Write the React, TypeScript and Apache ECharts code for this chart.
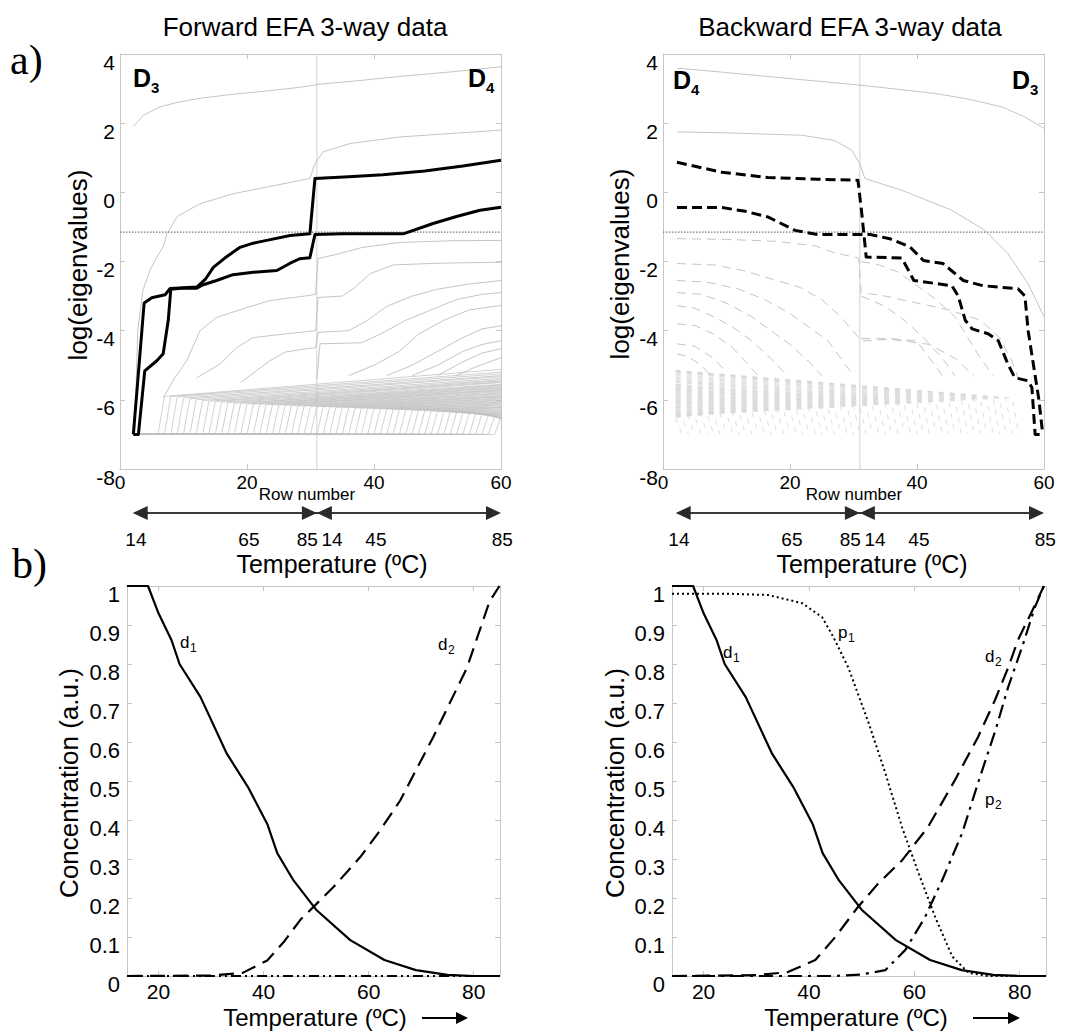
import React, { useEffect, useRef } from "react";
import * as echarts from "echarts";

const SANS = "'Liberation Sans', Arial, Helvetica, sans-serif";
const SERIF = "'Liberation Serif', 'Times New Roman', serif";

// ===== Panel a) axes =====
const rowRange = [0, 60];
const rowInterval = 20;
const logRange = [-8, 4];
const logInterval = 2;
const boundaryRow = 31; // junction D3 | D4
const noiseLevel = -1.15; // dotted noise threshold
const tempLabels = ["14", "65", "85", "14", "45", "85"];
const tempLabelRows = [2.5, 20.3, 29.5, 33.4, 40.3, 60.2];
const arrowRows = [2, 31, 60];

// ===== Panel b) axes =====
const tempRange = [14, 85];
const tempTicks = [20, 40, 60, 80];
const concRange = [0, 1];
const concInterval = 0.1;

// ===== Forward EFA (row, log eigenvalue) =====
const fwdEig1 = [[2.1, 1.91], [3.7, 2.23], [6.3, 2.47], [9, 2.6], [12.6, 2.72], [18, 2.84], [23.1, 2.93], [28, 3.03], [30.7, 3.1], [31, 3.12], [37, 3.22], [44, 3.35], [52, 3.48], [60, 3.63]];
const fwdEig2 = [[2.3, -7], [2.8, -4.0], [3.6, -2.84], [4.7, -2.26], [5.8, -1.87], [6.8, -1.58], [7.4, -1.2], [9, -0.7], [12.6, -0.33], [17.8, -0.04], [23.1, 0.15], [29.9, 0.4], [30.7, 0.83], [32, 1.17], [36.2, 1.41], [44, 1.6], [60, 1.8]];
const fwdBoldA = [[2.1, -7.0], [3.0, -5.0], [3.8, -3.2], [5, -3.05], [7.1, -2.96], [7.9, -2.78], [12.1, -2.74], [13.5, -2.5], [14.7, -2.17], [16.5, -1.9], [18.9, -1.59], [21, -1.47], [23.1, -1.39], [26.8, -1.25], [29.9, -1.2], [30.7, 0.4], [36, 0.45], [41.4, 0.51], [48, 0.62], [54, 0.76], [60, 0.93]];
const fwdBoldB = [[2.1, -7.0], [2.9, -7.0], [3.9, -5.16], [5.8, -4.87], [6.8, -4.67], [7.6, -3.7], [8, -2.8], [10, -2.77], [12.1, -2.77], [13, -2.68], [15.2, -2.55], [17.8, -2.38], [21, -2.31], [24.7, -2.26], [26.8, -2.05], [28.3, -1.92], [29.9, -1.89], [30.7, -1.22], [35, -1.2], [40, -1.2], [44.6, -1.2], [49.3, -0.9], [53, -0.7], [56.7, -0.52], [60, -0.43]];
const fwdMid1 = [[6.8, -5.94], [8.5, -5.4], [10.5, -4.87], [12.6, -4.0], [15.2, -3.62], [20, -3.33], [23.6, -3.13], [29.4, -2.99], [30.8, -2.95], [31.2, -1.91], [34, -1.8], [38, -1.6], [44, -1.45], [52, -1.4], [60, -1.39]];
const fwdMid2 = [[12.1, -5.36], [15.7, -4.97], [18.4, -4.49], [21, -4.2], [26.2, -4.09], [30.8, -4.0], [31.2, -3.04], [35, -3.0], [37, -2.75], [39.4, -2.35], [43, -2.1], [50, -2.05], [60, -2.02]];
const fwdMid3 = [[19, -5.5], [20, -5.36], [23.6, -4.87], [26, -4.62], [29.4, -4.52], [30.8, -4.49], [31.2, -4.05], [36, -4.0], [39, -3.7], [42, -3.3], [46, -3.0], [50, -2.8], [55, -2.65], [60, -2.55]];
const fwdMid4 = [[31, -5.4], [31.5, -4.38], [38, -4.35], [41, -4.1], [45, -3.7], [49, -3.4], [53, -3.1], [57, -2.95], [60, -2.9]];
const fwdMid5 = [[36, -5.3], [40, -5.0], [44, -4.6], [47, -4.1], [51, -3.7], [55, -3.4], [60, -3.27]];
const fwdMid6 = [[42, -5.3], [46, -5.0], [50, -4.6], [54, -4.2], [57, -3.95], [60, -3.86]];
const fwdMid7 = [[46, -5.3], [50, -5.0], [54, -4.6], [57, -4.4], [60, -4.29]];
const fwdMid8 = [[50, -5.3], [54, -4.9], [57, -4.65], [60, -4.52]];
const fwdMid9 = [[53, -5.3], [56, -5.05], [60, -4.78]];
const fwdNoiseOnset = [6, 7, 8, 9, 10, 11, 12, 13, 14, 15, 16, 17, 18, 19, 20, 21, 22, 23, 24, 25, 26, 27, 28, 29, 30, 31, 32, 33, 34, 35, 36, 37, 38, 39, 40, 41, 42, 43, 44, 45, 46, 47, 48, 49, 50, 51, 52, 53, 54, 55, 56, 57, 58, 59];
const fwdNoiseFirst = [-5.9, -5.9, -5.92, -5.95, -5.97, -6.0, -6.02, -6.04, -6.05, -6.07, -6.08, -6.1, -6.1, -6.12, -6.12, -6.13, -6.14, -6.15, -6.15, -6.16, -6.17, -6.18, -6.18, -6.19, -6.2, -6.2, -6.21, -6.22, -6.22, -6.23, -6.24, -6.24, -6.25, -6.26, -6.26, -6.27, -6.28, -6.28, -6.29, -6.3, -6.3, -6.31, -6.32, -6.33, -6.34, -6.35, -6.36, -6.37, -6.38, -6.4, -6.42, -6.45, -6.48, -6.5];
const fwdNoiseEnd = [-5.12, -5.2, -5.25, -5.3, -5.33, -5.38, -5.42, -5.45, -5.48, -5.5, -5.55, -5.57, -5.6, -5.62, -5.65, -5.67, -5.7, -5.72, -5.74, -5.77, -5.8, -5.82, -5.85, -5.88, -5.9, -5.92, -5.95, -5.97, -6.0, -6.02, -6.05, -6.07, -6.1, -6.12, -6.15, -6.17, -6.2, -6.22, -6.24, -6.27, -6.3, -6.32, -6.35, -6.37, -6.4, -6.42, -6.44, -6.46, -6.48, -6.5, -6.52, -6.54, -6.55, -6.55];

// ===== Backward EFA (row, log eigenvalue) =====
const bwdEig1 = [[2.2, 3.59], [9, 3.48], [16.5, 3.35], [24, 3.22], [31, 3.1], [37, 2.98], [42.8, 2.86], [48, 2.7], [53.4, 2.47], [57, 2.18], [60, 1.85]];
const bwdEig2 = [[2.2, 1.75], [10, 1.72], [21.9, 1.65], [27, 1.5], [29.7, 1.22], [31, 0.83], [31.8, 0.4], [37.6, 0.06], [45.5, -0.52], [50.7, -1.1], [54.3, -1.77], [57.5, -2.64], [60, -3.6]];
const bwdBoldA = [[2.2, 0.87], [9.3, 0.58], [16.5, 0.43], [24.4, 0.38], [30.7, 0.35], [31.3, -0.6], [32, -1.87], [37.6, -1.9], [38.5, -2.2], [39.5, -2.55], [45.5, -2.7], [46.5, -3.0], [47.6, -3.7], [48.7, -3.95], [51.2, -4.09], [52.8, -4.29], [54.3, -4.96], [55.4, -5.36], [57.5, -5.45], [58.1, -5.65], [58.6, -7.0], [59.8, -7.0]];
const bwdBoldB = [[2.2, -0.44], [9.3, -0.44], [13, -0.55], [16.5, -0.71], [20.8, -1.1], [24.4, -1.22], [30.7, -1.22], [32.6, -1.22], [35.7, -1.34], [38.9, -1.58], [41, -1.97], [44.1, -2.06], [47.3, -2.55], [50.4, -2.7], [55.9, -2.79], [57, -3.0], [57.5, -4.0], [59.2, -6.0], [59.8, -7.0]];
const bwdMid1 = [[2.2, -1.34], [10, -1.36], [18, -1.42], [24, -1.55], [27, -1.75], [30.8, -1.9], [31.2, -2.9], [35, -3.0], [40, -3.2], [45, -3.4], [50, -3.7], [53, -4.2], [55, -4.9], [56, -5.4]];
const bwdMid2 = [[2.2, -2.06], [8, -2.1], [12.6, -2.26], [17, -2.5], [21.6, -2.75], [25, -3.1], [28, -3.6], [30.8, -4.2], [31.2, -4.3], [36, -4.25], [42, -4.4], [46, -4.8], [49, -5.3]];
const bwdMid3 = [[2.2, -2.55], [7, -2.6], [12, -2.8], [16, -3.1], [20, -3.5], [23, -3.9], [26, -4.3], [28, -4.8], [30, -5.3]];
const bwdMid4 = [[2.2, -2.9], [6, -2.95], [10, -3.2], [14, -3.6], [17, -4.0], [20, -4.4], [23, -4.9], [25, -5.3]];
const bwdMid5 = [[2.2, -3.28], [5, -3.35], [8, -3.6], [11, -3.9], [14, -4.3], [17, -4.8], [19, -5.2]];
const bwdMid6 = [[2.2, -3.8], [5, -3.85], [8, -4.1], [11, -4.5], [13, -4.9], [15, -5.3]];
const bwdMid7 = [[2.2, -4.38], [5, -4.45], [8, -4.8], [10, -5.2]];
const bwdMid8 = [[2.2, -4.67], [4, -4.75], [6, -5.0], [7.5, -5.3]];
const bwdMid9 = [[31.2, -2.0], [34, -2.1], [37, -2.3], [40, -2.7], [43, -3.1], [46, -3.6], [48, -4.2], [50, -4.8], [52, -5.3]];
const bwdMid10 = [[31.2, -3.0], [35, -3.3], [38, -3.7], [41, -4.2], [44, -4.8], [46, -5.3]];
const bwdMid11 = [[31.2, -4.23], [36, -4.23], [40, -4.3], [42, -4.8], [44, -5.3]];
const bwdNoiseEndRow = [2, 3, 4, 5, 6, 7, 8, 9, 10, 11, 12, 13, 14, 15, 16, 17, 18, 19, 20, 21, 22, 23, 24, 25, 26, 27, 28, 29, 30, 31, 32, 33, 34, 35, 36, 37, 38, 39, 40, 41, 42, 43, 44, 45, 46, 47, 48, 49, 50, 51, 52, 53, 54, 55];
const bwdNoiseStart = [-6.52, -6.5, -6.48, -6.46, -6.44, -6.42, -6.4, -6.38, -6.35, -6.33, -6.3, -6.28, -6.25, -6.22, -6.2, -6.18, -6.15, -6.12, -6.1, -6.07, -6.05, -6.02, -6.0, -5.97, -5.95, -5.92, -5.9, -5.87, -5.85, -5.82, -5.8, -5.77, -5.74, -5.72, -5.7, -5.67, -5.65, -5.62, -5.6, -5.57, -5.55, -5.5, -5.48, -5.45, -5.42, -5.38, -5.34, -5.3, -5.26, -5.22, -5.2, -5.18, -5.16, -5.15];
const bwdNoiseTop = [-6.52, -6.5, -6.48, -6.46, -6.45, -6.43, -6.42, -6.4, -6.39, -6.38, -6.37, -6.36, -6.35, -6.34, -6.33, -6.32, -6.31, -6.3, -6.29, -6.28, -6.27, -6.26, -6.25, -6.24, -6.23, -6.22, -6.21, -6.2, -6.19, -6.18, -6.17, -6.16, -6.15, -6.14, -6.13, -6.12, -6.11, -6.1, -6.09, -6.08, -6.07, -6.06, -6.05, -6.04, -6.03, -6.02, -6.01, -6.0, -5.99, -5.98, -5.97, -5.96, -5.95, -5.95];

// ===== Concentration profiles (temperature ºC, a.u.) =====
const d1Conc = [[14, 1], [18, 1], [20, 0.93], [22.5, 0.86], [24, 0.8], [28, 0.715], [33, 0.57], [37, 0.485], [40.7, 0.39], [42.6, 0.315], [45.7, 0.245], [50, 0.17], [56.5, 0.092], [63, 0.041], [69, 0.015], [75, 0.003], [80, 0], [85, 0]];
const fwdD2 = [[14, 0], [30, 0.001], [36, 0.008], [40.7, 0.04], [44, 0.09], [47, 0.144], [53.3, 0.228], [58.4, 0.305], [62, 0.37], [66, 0.45], [72.3, 0.613], [78.7, 0.79], [83, 0.96], [84.9, 1.0]];
const fwdPZero = [[14, 0], [85, 0]];
const bwdD2 = [[14, 0], [30, 0.002], [36, 0.01], [41.2, 0.041], [45, 0.1], [49.3, 0.177], [53, 0.235], [57.7, 0.297], [62.6, 0.382], [67.7, 0.502], [72.1, 0.613], [75.3, 0.707], [77.8, 0.79], [79.7, 0.862], [82.5, 0.94], [84.6, 1.0]];
const bwdP1 = [[14, 0.98], [25, 0.98], [32.2, 0.977], [38.7, 0.956], [42.5, 0.92], [44.6, 0.87], [47.5, 0.79], [51.3, 0.65], [54.5, 0.52], [57.7, 0.38], [60.8, 0.264], [64, 0.15], [67.2, 0.05], [70.3, 0.008], [74, 0], [85, 0]];
const bwdP2 = [[14, 0], [45, 0], [50, 0.004], [54.5, 0.015], [58.3, 0.067], [62, 0.15], [65.3, 0.246], [69.1, 0.367], [72.1, 0.495], [75.4, 0.63], [77.8, 0.74], [80.5, 0.845], [82.9, 0.946], [84.6, 1.0]];

// ===== styling =====
const AXIS_GREY = "#c6c6c6";
const GREY = "#bdbdbd";
const grids = [
  { left: 120, top: 54, width: 381, height: 415 },
  { left: 663, top: 54, width: 381, height: 415 },
  { left: 127, top: 586, width: 373, height: 390 },
  { left: 672, top: 586, width: 374, height: 390 },
];

function ln(ax: number, data: number[][], color: string, width: number, type: any = "solid", z = 2) {
  return {
    type: "line",
    xAxisIndex: ax,
    yAxisIndex: ax,
    data,
    symbol: "none",
    showSymbol: false,
    silent: true,
    z,
    lineStyle: { color, width, type, cap: "butt", join: "round" },
    animation: false,
  };
}

function buildOption() {
  const xMain: any[] = [];
  const xMir: any[] = [];
  const yMain: any[] = [];
  const yMir: any[] = [];
  for (let i = 0; i < 4; i++) {
    const isLog = i < 2;
    for (const pos of ["bottom", "top"]) {
      const main = pos === "bottom";
      const ax: any = {
        type: "value",
        gridIndex: i,
        position: pos,
        min: isLog ? rowRange[0] : tempRange[0],
        max: isLog ? rowRange[1] : tempRange[1],
        axisLine: { show: true, onZero: false, lineStyle: { color: AXIS_GREY, width: 1 } },
        axisTick: { show: true, inside: true, length: 5, lineStyle: { color: AXIS_GREY } },
        axisLabel: {
          show: main,
          color: "#000",
          fontFamily: SANS,
          fontSize: isLog ? 19 : 21,
          margin: isLog ? 4 : 5,
        },
        splitLine: { show: false },
      };
      if (isLog) ax.interval = rowInterval;
      else {
        ax.axisTick.customValues = tempTicks;
        ax.axisLabel.customValues = tempTicks;
      }
      (main ? xMain : xMir).push(ax);
    }
    for (const pos of ["left", "right"]) {
      const main = pos === "left";
      const ay: any = {
        type: "value",
        gridIndex: i,
        position: pos,
        min: isLog ? logRange[0] : concRange[0],
        max: isLog ? logRange[1] : concRange[1],
        interval: isLog ? logInterval : concInterval,
        axisLine: { show: true, onZero: false, lineStyle: { color: AXIS_GREY, width: 1 } },
        axisTick: { show: true, inside: true, length: 5, lineStyle: { color: AXIS_GREY } },
        axisLabel: {
          show: main,
          color: "#000",
          fontFamily: SANS,
          fontSize: isLog ? 21 : 22,
          margin: isLog ? 5 : 7,
          verticalAlign: "top",
          lineHeight: 16,
          formatter: (v: number) => String(Math.round(v * 10) / 10),
        },
        splitLine: { show: false },
      };
      (main ? yMain : yMir).push(ay);
    }
  }

  const series: any[] = [];
  // ---- forward EFA (panel 0)
  series.push(ln(0, [[boundaryRow, logRange[0]], [boundaryRow, logRange[1]]], "#d2d2d2", 1, "solid", 1));
  fwdNoiseOnset.forEach((k, i) => {
    series.push(ln(0, [[3, -7], [k, -7], [k + 1, fwdNoiseFirst[i]], [60, fwdNoiseEnd[i]]], GREY, 0.7, "solid", 1));
  });
  [fwdMid1, fwdMid2, fwdMid3, fwdMid4, fwdMid5, fwdMid6, fwdMid7, fwdMid8, fwdMid9, fwdEig2, fwdEig1].forEach((d) =>
    series.push(ln(0, d, GREY, 0.9, "solid", 1))
  );
  series.push(ln(0, [[rowRange[0], noiseLevel], [rowRange[1], noiseLevel]], "#777", 1.2, [1.5, 1.5], 2));
  series.push(ln(0, fwdBoldA, "#000", 3, "solid", 3));
  series.push(ln(0, fwdBoldB, "#000", 3, "solid", 3));

  // ---- backward EFA (panel 1)
  series.push(ln(1, [[boundaryRow, logRange[0]], [boundaryRow, logRange[1]]], "#d2d2d2", 1, "solid", 1));
  bwdNoiseEndRow.forEach((e, i) => {
    series.push(ln(1, [[2, bwdNoiseStart[i]], [e, bwdNoiseTop[i]], [e + 1, -7]], "#c8c8c8", 0.6, [5, 6], 1));
  });
  [bwdMid1, bwdMid2, bwdMid3, bwdMid4, bwdMid5, bwdMid6, bwdMid7, bwdMid8, bwdMid9, bwdMid10, bwdMid11].forEach((d) =>
    series.push(ln(1, d, GREY, 0.9, [9, 6], 1))
  );
  series.push(ln(1, bwdEig1, GREY, 0.9, "solid", 1));
  series.push(ln(1, bwdEig2, GREY, 0.9, "solid", 1));
  series.push(ln(1, [[rowRange[0], noiseLevel], [rowRange[1], noiseLevel]], "#777", 1.2, [1.5, 1.5], 2));
  series.push(ln(1, bwdBoldA, "#000", 3, [10, 5], 3));
  series.push(ln(1, bwdBoldB, "#000", 3, [10, 5], 3));

  // ---- concentration profiles (panels 2, 3)
  series.push(ln(2, fwdPZero, "#000", 2.2, [10, 4, 2, 4, 2, 4], 2));
  series.push(ln(2, fwdD2, "#000", 2.2, [15, 8], 2));
  series.push(ln(2, d1Conc, "#000", 2.2, "solid", 3));

  series.push(ln(3, bwdP2, "#000", 2.2, [14, 6, 3, 6], 2));
  series.push(ln(3, bwdD2, "#000", 2.2, [15, 8], 2));
  series.push(ln(3, bwdP1, "#000", 2, [2, 3], 2));
  series.push(ln(3, d1Conc, "#000", 2.2, "solid", 3));

  return {
    animation: false,
    backgroundColor: "#fff",
    grid: grids.map((g) => ({ ...g, containLabel: false, outerBoundsMode: "none", show: false })),
    xAxis: [...xMain, ...xMir],
    yAxis: [...yMain, ...yMir],
    series,
  };
}

function text(x: number, y: number, s: string, size: number, o: any = {}) {
  return {
    type: "text",
    x,
    y,
    rotation: o.rotation || 0,
    silent: true,
    z: 10,
    style: {
      text: s,
      fill: "#000",
      fontSize: size,
      fontFamily: o.family || SANS,
      fontWeight: o.bold ? "bold" : "normal",
      align: o.align || "center",
      verticalAlign: "middle",
      textAlign: o.align || "center",
      textVerticalAlign: "middle",
    },
  };
}

function tri(points: number[][], fill = "#2a2a2a") {
  return { type: "polygon", silent: true, z: 10, shape: { points }, style: { fill } };
}

function seg(x1: number, y1: number, x2: number, y2: number, w = 2, c = "#3a3a3a") {
  return { type: "line", silent: true, z: 10, shape: { x1, y1, x2, y2 }, style: { stroke: c, lineWidth: w } };
}

function buildGraphic(chart: any) {
  const els: any[] = [];
  // panel letters
  els.push(text(10, 60, "a)", 42, { family: SERIF, align: "left" }));
  els.push(text(12, 564, "b)", 42, { family: SERIF, align: "left" }));
  // titles
  els.push(text(305, 27, "Forward EFA 3-way data", 26));
  els.push(text(850, 27, "Backward EFA 3-way data", 26));
  // y axis names
  els.push(text(78, 265, "log(eigenvalues)", 26, { rotation: Math.PI / 2 }));
  els.push(text(620, 264, "log(eigenvalues)", 26, { rotation: Math.PI / 2 }));
  els.push(text(69, 783, "Concentration (a.u.)", 26, { rotation: Math.PI / 2 }));
  els.push(text(615, 783, "Concentration (a.u.)", 26, { rotation: Math.PI / 2 }));
  // D labels
  const D = (x: number, y: number, sub: string) => {
    els.push(text(x, y, "D", 25, { bold: true, align: "left" }));
    els.push(text(x + 18, y + 9, sub, 15, { bold: true, align: "left" }));
  };
  D(133, 78, "3");
  D(468, 78, "4");
  D(673, 80, "4");
  D(1012, 80, "3");
  // Row number
  els.push(text(307, 494, "Row number", 17));
  els.push(text(854, 494, "Row number", 17));
  // temperature arrows under row axes
  const ay = 513;
  const hl = 15;
  const hh = 7;
  [0, 1].forEach((p) => {
    const px = arrowRows.map((r) => chart.convertToPixel({ xAxisIndex: p }, r));
    els.push(seg(px[0] + 5, ay, px[2] - 5, ay));
    els.push(tri([[px[0], ay], [px[0] + hl, ay - hh], [px[0] + hl, ay + hh]]));
    els.push(tri([[px[1], ay], [px[1] - hl, ay - hh], [px[1] - hl, ay + hh]]));
    els.push(tri([[px[1], ay], [px[1] + hl, ay - hh], [px[1] + hl, ay + hh]]));
    els.push(tri([[px[2], ay], [px[2] - hl, ay - hh], [px[2] - hl, ay + hh]]));
    tempLabelRows.forEach((r, i) => {
      const x = chart.convertToPixel({ xAxisIndex: p }, r);
      els.push(text(x, 539, tempLabels[i], 19));
    });
  });
  els.push(text(332, 564, "Temperature (ºC)", 25));
  els.push(text(872, 564, "Temperature (ºC)", 25));
  // bottom axis names with arrows
  els.push(text(315, 1017, "Temperature (ºC)", 24));
  els.push(text(856, 1017, "Temperature (ºC)", 24));
  const arr = (x1: number, x2: number, y: number) => {
    els.push(seg(x1, y, x2 - 8, y, 2, "#000"));
    els.push(tri([[x2, y], [x2 - 12, y - 6], [x2 - 12, y + 6]], "#000"));
  };
  arr(422, 468, 1018);
  arr(973, 1020, 1018);
  // curve labels
  const lab = (x: number, y: number, m: string, s: string) => {
    els.push(text(x, y, m, 17, { align: "left" }));
    els.push(text(x + 10, y + 6, s, 12, { align: "left" }));
  };
  lab(180, 642, "d", "1");
  lab(438, 644, "d", "2");
  lab(723, 652, "d", "1");
  lab(985, 656, "d", "2");
  lab(838, 632, "p", "1");
  lab(985, 799, "p", "2");
  return els;
}

export default function App() {
  const ref = useRef<HTMLDivElement>(null);
  useEffect(() => {
    const chart = echarts.init(ref.current!, null, { renderer: "svg" });
    chart.setOption(buildOption() as any);
    chart.setOption({ graphic: buildGraphic(chart) } as any);
    return () => chart.dispose();
  }, []);
  return (
    <div
      ref={ref}
      style={{ position: "fixed", left: 0, top: 0, width: 1075, height: 1034, background: "#fff" }}
    />
  );
}
